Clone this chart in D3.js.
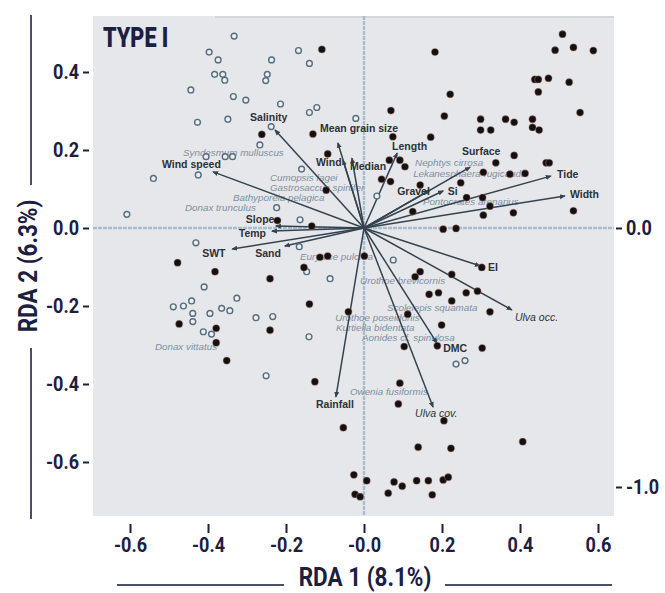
<!DOCTYPE html>
<meta charset="utf-8">
<title>RDA biplot - Type I</title>
<head>
<style>
body { margin: 0; background: #ffffff; }
svg text { font-family: Roboto, "DejaVu Sans Condensed", sans-serif; }
.axis .tick text { font-weight: bold; fill: #1c2040; font-size: 21px; }
.axis .tick line { stroke: #1c2040; stroke-width: 2px; }
.axis path.domain { display: none; }
.varlabel { font-family: "Liberation Sans", Arial, sans-serif !important; font-size: 10.5px; font-weight: bold; fill: #2c3236; }
.splabel { font-family: "Liberation Sans", Arial, sans-serif !important; font-size: 9.8px; font-style: italic; fill: #7d8fa0; }
.vector { stroke: #34434e; stroke-width: 1.5px; }
.title { font-weight: bold; fill: #1c2040; font-size: 25px; }
</style>
</head>
<body>
<svg width="665" height="593"></svg>
<script src="https://d3js.org/d3.v7.min.js"></script>
<script>
// tick values and their printed labels
var xTicks = [-0.6, -0.4, -0.2, 0, 0.2, 0.4, 0.6];
var xTickLabels = ["-0.6", "-0.4", "-0.2", "-0.0", "0.2", "0.4", "0.6"];
var yTicks = [0.4, 0.2, 0, -0.2, -0.4, -0.6];
var yTickLabels = ["0.4", "0.2", "0.0", "-0.2", "-0.4", "-0.6"];
var y2Ticks = [0, -1];
var y2TickLabels = ["0.0", "-1.0"];

// site scores, black dots
var filledSites = [
  [-0.108,0.458],[0.182,0.451],[0.509,0.497],[0.490,0.456],[0.537,0.463],[0.588,0.455],
  [0.438,0.381],[0.447,0.381],[0.473,0.384],[0.526,0.374],[0.447,0.349],[0.221,0.343],
  [0.554,0.296],[0.069,0.301],[0.206,0.287],[0.299,0.279],[0.363,0.279],[0.385,0.271],
  [0.432,0.279],[0.299,0.251],[0.325,0.251],[0.432,0.258],[0.449,0.251],[0.171,0.233],
  [0.074,0.234],[0.385,0.186],[0.338,0.167],[0.467,0.167],[0.475,0.167],[0.306,0.143],
  [0.374,0.138],[0.413,0.140],[0.065,0.174],[0.092,0.174],[0.105,0.157],[-0.262,0.240],
  [-0.131,0.241],[-0.093,0.190],[0.045,0.125],[0.068,0.119],[0.144,0.110],[0.248,0.116],
  [0.263,0.078],[0.304,0.078],[0.323,0.056],[0.306,0.033],[0.383,0.039],[0.537,0.044],
  [0.125,0.042],[0.203,-0.003],[0.236,-0.001],[-0.097,0.097],[-0.222,0.019],[-0.134,0.005],
  [-0.478,-0.089],[-0.382,-0.112],[-0.241,-0.130],[-0.154,-0.101],[-0.113,-0.075],[-0.093,-0.072],
  [0.001,-0.072],[-0.140,-0.195],[-0.474,-0.246],[-0.379,-0.257],[-0.241,-0.262],[-0.040,-0.215],
  [0.302,-0.101],[0.144,-0.112],[0.131,-0.125],[0.225,-0.119],[0.167,-0.170],[0.191,-0.166],
  [0.262,-0.166],[0.291,-0.162],[0.225,-0.187],[0.323,-0.215],[0.112,-0.221],[0.199,-0.249],
  [-0.379,-0.294],[-0.352,-0.340],[-0.126,-0.394],[-0.053,-0.512],[0.103,-0.304],[0.188,-0.302],
  [0.303,-0.308],[0.092,-0.398],[0.088,-0.451],[0.205,-0.494],[0.139,-0.562],[0.223,-0.565],
  [0.407,-0.548],[-0.026,-0.633],[0.007,-0.648],[0.077,-0.651],[0.098,-0.662],[0.135,-0.648],
  [0.165,-0.648],[0.203,-0.646],[0.216,-0.639],[0.062,-0.680],[0.175,-0.684],[-0.023,-0.683],
  [-0.010,-0.689]
];

// site scores, open circles
var openSites = [
  [-0.333,0.492],[-0.397,0.451],[-0.374,0.431],[-0.237,0.431],[-0.168,0.455],[-0.140,0.422],
  [-0.383,0.394],[-0.362,0.394],[-0.357,0.379],[-0.248,0.394],[-0.252,0.378],[-0.444,0.354],
  [-0.335,0.337],[-0.303,0.328],[-0.214,0.318],[-0.140,0.296],[-0.121,0.309],[-0.427,0.271],
  [-0.349,0.279],[-0.238,0.260],[-0.267,0.213],[-0.405,0.183],[-0.356,0.183],[-0.337,0.183],
  [-0.425,0.136],[-0.540,0.127],[-0.608,0.035],[-0.160,0.151],[-0.224,0.052],[-0.164,0.021],
  [-0.021,0.281],[0.033,0.082],[-0.431,-0.038],[-0.166,-0.048],[-0.410,-0.151],[-0.326,-0.180],
  [-0.489,-0.202],[-0.463,-0.200],[-0.442,-0.187],[-0.439,-0.219],[-0.439,-0.240],[-0.395,-0.219],
  [-0.365,-0.206],[-0.344,-0.212],[-0.277,-0.230],[-0.234,-0.227],[-0.412,-0.266],[-0.391,-0.272],
  [-0.087,-0.130],[-0.147,-0.112],[-0.141,-0.279],[-0.251,-0.379],[0.075,-0.082],[0.236,-0.349],
  [0.259,-0.340]
];

// explanatory variables: arrow tip (x, y) and label start (lx, ly)
var vectors = [
  {name: "Salinity", x: -0.228, y: 0.251, lx: -0.292, ly: 0.274},
  {name: "Wind speed", x: -0.387, y: 0.144, lx: -0.518, ly: 0.154},
  {name: "Mean grain size", x: -0.067, y: 0.218, lx: -0.113, ly: 0.246},
  {name: "Wind", x: -0.054, y: 0.174, lx: -0.123, ly: 0.159},
  {name: "Median", x: -0.031, y: 0.179, lx: -0.036, ly: 0.149},
  {name: "Length", x: 0.085, y: 0.192, lx: 0.072, ly: 0.200},
  {name: "Gravel", x: 0.169, y: 0.097, lx: 0.085, ly: 0.085},
  {name: "Si", x: 0.203, y: 0.095, lx: 0.215, ly: 0.085},
  {name: "Surface", x: 0.272, y: 0.156, lx: 0.251, ly: 0.187},
  {name: "Tide", x: 0.479, y: 0.133, lx: 0.495, ly: 0.128},
  {name: "Width", x: 0.515, y: 0.082, lx: 0.528, ly: 0.077},
  {name: "EI", x: 0.297, y: -0.097, lx: 0.318, ly: -0.110},
  {name: "Ulva occ.", x: 0.379, y: -0.210, lx: 0.387, ly: -0.238, it: true},
  {name: "DMC", x: 0.187, y: -0.295, lx: 0.203, ly: -0.318},
  {name: "Ulva cov.", x: 0.177, y: -0.459, lx: 0.131, ly: -0.485, it: true},
  {name: "Rainfall", x: -0.072, y: -0.433, lx: -0.123, ly: -0.462},
  {name: "Slope", x: -0.226, y: 0.005, lx: -0.303, ly: 0.013},
  {name: "Temp", x: -0.236, y: -0.008, lx: -0.321, ly: -0.023},
  {name: "SWT", x: -0.338, y: -0.054, lx: -0.415, ly: -0.074},
  {name: "Sand", x: -0.203, y: -0.046, lx: -0.279, ly: -0.074}
];

// species scores, label start positions
var species = [
  {name: "Syndesmum mulluscus", x: -0.464, y: 0.185},
  {name: "Cumopsis fagei", x: -0.241, y: 0.121},
  {name: "Gastrosaccus spinifer", x: -0.241, y: 0.096},
  {name: "Bathyporeia pelagica", x: -0.336, y: 0.069},
  {name: "Donax trunculus", x: -0.459, y: 0.044},
  {name: "Eurydice pulchra", x: -0.164, y: -0.082},
  {name: "Urothoe brevicornis", x: -0.010, y: -0.144},
  {name: "Scolelepis squamata", x: 0.059, y: -0.213},
  {name: "Urothoe poseidonis", x: -0.074, y: -0.238},
  {name: "Kurtiella bidentata", x: -0.072, y: -0.263},
  {name: "Aonides cf. spinulosa", x: -0.005, y: -0.291},
  {name: "Owenia fusiformis", x: -0.036, y: -0.428},
  {name: "Donax vittatus", x: -0.536, y: -0.313},
  {name: "Nephtys cirrosa", x: 0.131, y: 0.160},
  {name: "Lekanesphaera rugicauda", x: 0.126, y: 0.130},
  {name: "Pontocrates arenarius", x: 0.151, y: 0.059}
];

var svg = d3.select("svg"),
    panel = {left: 93, top: 16, right: 614, bottom: 516},
    squeeze = 0.86;

var x = d3.scaleLinear().domain([-0.6, 0.6]).range([130, 598]),
    y = d3.scaleLinear().domain([-0.6, 0.4]).range([462, 72]),
    y2 = d3.scaleLinear().domain([-1, 0]).range([487, 228]);

// plot background
svg.append("rect")
    .attr("x", panel.left).attr("y", panel.top)
    .attr("width", panel.right - panel.left)
    .attr("height", panel.bottom - panel.top)
    .attr("fill", "#e6e7eb");

svg.append("line")
    .attr("x1", 215).attr("x2", panel.right)
    .attr("y1", panel.top + 1).attr("y2", panel.top + 1)
    .attr("stroke", "#cfd1d5").attr("stroke-width", 1.5);

// zero lines
var g = svg.append("g");
g.append("line")
    .attr("x1", panel.left).attr("x2", panel.right)
    .attr("y1", y(0)).attr("y2", y(0))
    .attr("stroke", "#a9bccb").attr("stroke-width", 2.4).attr("stroke-dasharray", "4,1");
g.append("line")
    .attr("x1", x(0)).attr("x2", x(0))
    .attr("y1", panel.top).attr("y2", panel.bottom)
    .attr("stroke", "#a9bccb").attr("stroke-width", 2.4).attr("stroke-dasharray", "4,1");

// species labels
g.selectAll(".splabel")
    .data(species)
  .enter().append("text")
    .attr("class", "splabel")
    .attr("x", function(d) { return x(d.x); })
    .attr("y", function(d) { return y(d.y); })
    .text(function(d) { return d.name; });

// arrow heads
svg.append("defs").append("marker")
    .attr("id", "head")
    .attr("markerUnits", "userSpaceOnUse")
    .attr("markerWidth", 6).attr("markerHeight", 6)
    .attr("refX", 5).attr("refY", 3)
    .attr("orient", "auto")
  .append("path")
    .attr("d", "M0,0.5L6,3L0,5.5z")
    .attr("fill", "#34434e");

g.selectAll(".vector")
    .data(vectors)
  .enter().append("line")
    .attr("class", "vector")
    .attr("x1", x(0)).attr("y1", y(0))
    .attr("x2", function(d) { return x(d.x); })
    .attr("y2", function(d) { return y(d.y); })
    .attr("marker-end", "url(#head)");

// sites
g.selectAll(".open")
    .data(openSites)
  .enter().append("circle")
    .attr("class", "open")
    .attr("cx", function(d) { return x(d[0]); })
    .attr("cy", function(d) { return y(d[1]); })
    .attr("r", 2.9)
    .attr("fill", "#eceef0")
    .attr("stroke", "#556d7e")
    .attr("stroke-width", 1.4);

g.selectAll(".filled")
    .data(filledSites)
  .enter().append("circle")
    .attr("class", "filled")
    .attr("cx", function(d) { return x(d[0]); })
    .attr("cy", function(d) { return y(d[1]); })
    .attr("r", 3.6)
    .attr("fill", "#111111")
    .attr("stroke", "rgba(210,140,130,0.35)")
    .attr("stroke-width", 1.2);

// variable labels
g.selectAll(".varlabel")
    .data(vectors)
  .enter().append("text")
    .attr("class", "varlabel")
    .attr("x", function(d) { return x(d.lx); })
    .attr("y", function(d) { return y(d.ly); })
    .style("font-style", function(d) { return d.it ? "italic" : null; })
    .style("font-weight", function(d) { return d.it ? "normal" : null; })
    .text(function(d) { return d.name; });

svg.append("text")
    .attr("transform", "translate(103,47) scale(0.8,1)")
    .attr("fill", "#1c2040")
    .style("font-weight", "900")
    .style("font-size", "27px")
    .text("TYPE I");

// axes
svg.append("g")
    .attr("class", "axis")
    .attr("transform", "translate(0,524)")
    .call(d3.axisBottom(x).tickValues(xTicks).tickSize(9).tickPadding(4)
      .tickFormat(function(d, i) { return xTickLabels[i]; }))
  .selectAll(".tick text")
    .attr("transform", "scale(" + squeeze + ",1)");

svg.append("g")
    .attr("class", "axis")
    .attr("transform", "translate(89,0)")
    .call(d3.axisLeft(y).tickValues(yTicks).tickSize(6).tickPadding(4)
      .tickFormat(function(d, i) { return yTickLabels[i]; }))
  .selectAll(".tick text")
    .attr("x", -10 / squeeze)
    .attr("transform", "scale(" + squeeze + ",1)");

svg.append("g")
    .attr("class", "axis")
    .attr("transform", "translate(" + (panel.right + 2) + ",0)")
    .call(d3.axisRight(y2).tickValues(y2Ticks).tickSize(6).tickPadding(4)
      .tickFormat(function(d, i) { return y2TickLabels[i]; }))
  .selectAll(".tick text")
    .attr("x", 10 / squeeze)
    .attr("transform", "scale(" + squeeze + ",1)");

// axis titles with rules
svg.append("text")
    .attr("class", "title")
    .attr("transform", "translate(365,586) scale(0.9,1)")
    .attr("text-anchor", "middle")
    .text("RDA 1 (8.1%)");

svg.append("text")
    .attr("class", "title")
    .attr("transform", "translate(37,266) rotate(-90) scale(0.9,1)")
    .attr("text-anchor", "middle")
    .text("RDA 2 (6.3%)");

var rules = [[117, 585, 284, 585], [445, 585, 612, 585], [31, 15, 31, 185], [31, 348, 31, 519]];
svg.selectAll(".rule")
    .data(rules)
  .enter().append("line")
    .attr("x1", function(d) { return d[0]; })
    .attr("y1", function(d) { return d[1]; })
    .attr("x2", function(d) { return d[2]; })
    .attr("y2", function(d) { return d[3]; })
    .attr("stroke", "#4b5068")
    .attr("stroke-width", 2);
</script>
</body>
